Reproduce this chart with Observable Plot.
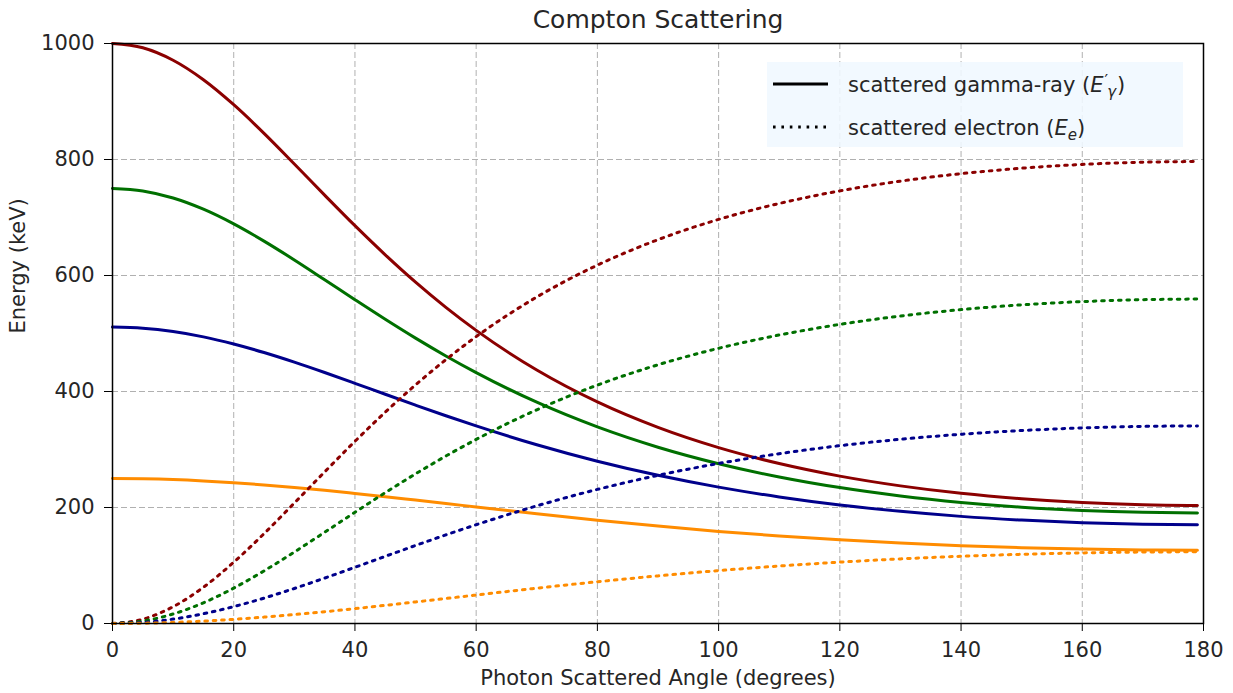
<!DOCTYPE html>
<html>
<head>
<meta charset="utf-8">
<script src="https://cdn.jsdelivr.net/npm/d3@7"></script>
<script src="https://cdn.jsdelivr.net/npm/@observablehq/plot@0.6"></script>
<style>
  html, body { margin: 0; padding: 0; background: #fff; }
  #wrap { position: relative; width: 1233px; height: 693px; font-family: "DejaVu Sans", sans-serif; }
  #legend { position: absolute; left: 767px; top: 62px; }
</style>
</head>
<body>
<div id="wrap"></div>
<script>
// Photon scattering angle (degrees)
const angles = [0, 5, 10, 15, 20, 25, 30, 35, 40, 45, 50, 55, 60, 70, 80, 90, 100, 110, 120, 130, 140, 150, 160, 170, 179];

// Initial photon energies (keV) and their colours
const energies = [1000, 750, 511, 250];
const colors = ["#8b0000", "#007000", "#00008b", "#ff8c00"];

// Scattered gamma-ray energy E'γ (keV)
const gamma1000 = [1000, 992.6, 971.1, 937.5, 894.4, 845.1, 792.3, 738.6, 685.9, 635.7, 588.6, 545.1, 505.4, 437.1, 382.1, 338.2, 303.3, 275.8, 254.1, 237.3, 224.4, 215.0, 208.5, 204.7, 203.5];
const gamma750  = [750, 745.8, 733.6, 714.3, 689.0, 659.3, 626.8, 592.7, 558.3, 524.5, 492.0, 461.3, 432.6, 381.5, 338.9, 303.9, 275.5, 252.6, 234.3, 219.9, 208.8, 200.6, 195.0, 191.7, 190.6];
const gamma511  = [511, 509.1, 503.4, 494.2, 481.9, 467.2, 450.6, 432.7, 414.1, 395.2, 376.5, 358.2, 340.7, 308.2, 279.8, 255.5, 235.1, 218.2, 204.4, 193.4, 184.7, 178.3, 173.8, 171.2, 170.3];
const gamma250  = [250, 249.5, 248.2, 245.9, 242.8, 239.0, 234.6, 229.7, 224.3, 218.7, 212.8, 206.9, 200.9, 189.1, 178.0, 167.9, 158.8, 150.9, 144.2, 138.6, 134.1, 130.7, 128.3, 126.8, 126.4];

// Scattered electron energy Ee (keV)
const elec1000 = [0, 7.4, 28.9, 62.5, 105.6, 154.9, 207.7, 261.4, 314.1, 364.3, 411.4, 454.9, 494.6, 562.9, 617.9, 661.8, 696.7, 724.2, 745.9, 762.7, 775.6, 785.0, 791.5, 795.3, 796.5];
const elec750  = [0, 4.2, 16.4, 35.7, 61.0, 90.7, 123.2, 157.3, 191.7, 225.5, 258.0, 288.7, 317.4, 368.5, 411.1, 446.1, 474.5, 497.4, 515.7, 530.1, 541.2, 549.4, 555.0, 558.3, 559.4];
const elec511  = [0, 1.9, 7.6, 16.8, 29.1, 43.8, 60.4, 78.3, 96.9, 115.8, 134.5, 152.8, 170.3, 202.8, 231.2, 255.5, 275.9, 292.8, 306.6, 317.6, 326.3, 332.7, 337.2, 339.8, 340.7];
const elec250  = [0, 0.5, 1.8, 4.1, 7.2, 11.0, 15.4, 20.3, 25.7, 31.3, 37.2, 43.1, 49.1, 60.9, 72.0, 82.1, 91.2, 99.1, 105.8, 111.4, 115.9, 119.3, 121.7, 123.2, 123.6];

const xTicks = [0, 20, 40, 60, 80, 100, 120, 140, 160, 180];
const yTicks = [0, 200, 400, 600, 800, 1000];

const titleText = "Compton Scattering";
const xLabel = "Photon Scattered Angle (degrees)";
const yLabel = "Energy (keV)";

const gammaSeries = [gamma1000, gamma750, gamma511, gamma250];
const elecSeries = [elec1000, elec750, elec511, elec250];

const gammaRows = energies.flatMap((e, i) => angles.map((a, j) => ({angle: a, energy: gammaSeries[i][j], E: String(e)})));
const elecRows = energies.flatMap((e, i) => angles.map((a, j) => ({angle: a, energy: elecSeries[i][j], E: String(e)})));

const txt = "#262626";
const dotted = "2.6,5.8";

const chart = Plot.plot({
  width: 1233,
  height: 693,
  marginLeft: 112,
  marginRight: 30,
  marginTop: 43,
  marginBottom: 70,
  style: {fontFamily: "DejaVu Sans, sans-serif", fontSize: "21px", color: txt, background: "#fff"},
  x: {domain: [0, 180]},
  y: {domain: [0, 1000]},
  color: {domain: energies.map(String), range: colors},
  marks: [
    Plot.gridX(xTicks, {stroke: "#b0b0b0", strokeOpacity: 1, strokeWidth: 1, strokeDasharray: "6,3"}),
    Plot.gridY(yTicks, {stroke: "#b0b0b0", strokeOpacity: 1, strokeWidth: 1, strokeDasharray: "6,3"}),
    Plot.line(gammaRows, {x: "angle", y: "energy", z: "E", stroke: "E", strokeWidth: 3, curve: "monotone-x"}),
    Plot.line(elecRows, {x: "angle", y: "energy", z: "E", stroke: "E", strokeWidth: 3, strokeDasharray: dotted, curve: "monotone-x"}),
    Plot.frame({stroke: "#000", strokeWidth: 1.5}),
    Plot.axisX(xTicks, {tickSize: 8, tickPadding: 11, fontSize: 21, label: null, stroke: "#000", fill: txt, tickFormat: d => String(d)}),
    Plot.axisY(yTicks, {tickSize: 8, tickPadding: 10, fontSize: 21, label: null, stroke: "#000", fill: txt, tickFormat: d => String(d)}),
    Plot.text([titleText], {frameAnchor: "top", lineAnchor: "middle", dy: -24, fontSize: 25, fill: txt, text: d => d}),
    Plot.text([xLabel], {frameAnchor: "bottom", lineAnchor: "middle", dy: 55, fontSize: 21, fill: txt, text: d => d}),
    Plot.text([yLabel], {frameAnchor: "left", lineAnchor: "middle", dx: -94, rotate: -90, fontSize: 21, fill: txt, text: d => d})
  ]
});

const wrap = document.getElementById("wrap");
wrap.appendChild(chart);

// Legend (line-style key)
const legend = document.createElement("div");
legend.id = "legend";
legend.innerHTML = `
<svg width="416" height="85" xmlns="http://www.w3.org/2000/svg" style="display:block;font-family:'DejaVu Sans',sans-serif">
  <rect x="0" y="0" width="416" height="85" fill="#f0f8ff" fill-opacity="0.88"/>
  <line x1="6" x2="61" y1="22" y2="22" stroke="#000" stroke-width="3"/>
  <line x1="6" x2="61" y1="65" y2="65" stroke="#000" stroke-width="3" stroke-dasharray="${dotted}"/>
  <text x="81" y="30" font-size="21" fill="${txt}">scattered gamma-ray (<tspan font-style="italic">E</tspan><tspan font-size="16" dx="1" dy="-6">′</tspan><tspan font-size="15" font-style="italic" dx="-1" dy="11">γ</tspan><tspan dx="1" dy="-5">)</tspan></text>
  <text x="81" y="73" font-size="21" fill="${txt}">scattered electron (<tspan font-style="italic">E</tspan><tspan font-size="15" font-style="italic" dy="5">e</tspan><tspan dy="-5">)</tspan></text>
</svg>`;
wrap.appendChild(legend);
</script>
</body>
</html>
